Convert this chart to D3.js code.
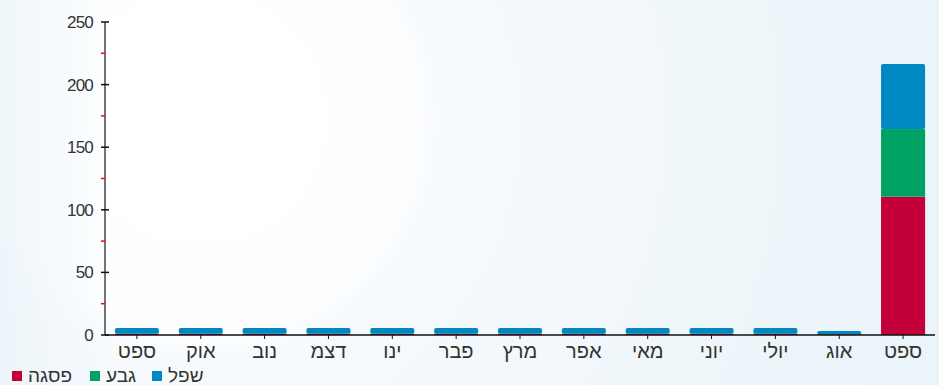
<!DOCTYPE html>
<html>
<head>
<meta charset="utf-8">
<style>
  body { margin: 0; padding: 0; }
  svg { display: block; }
  text { font-family: "Liberation Sans", Arial, sans-serif; }
</style>
</head>
<body>
<div id="chart"></div>
<script src="https://cdn.jsdelivr.net/npm/d3@7"></script>
<script>
// months, Hebrew abbreviations
var months = ["ספט", "אוק", "נוב", "דצמ", "ינו", "פבר", "מרץ", "אפר", "מאי", "יוני", "יולי", "אוג", "ספט"];
// series (stack order bottom -> top)
var peak = [1, 1, 1, 1, 1, 1, 1, 1, 1, 1, 1, 0.6, 110.5];   // פסגה
var mid  = [0, 0, 0, 0, 0, 0, 0, 0, 0, 0, 0, 0, 54];        // גבע
var low  = [4.5, 4.5, 4.5, 4.5, 4.5, 4.5, 4.5, 4.5, 4.5, 4.5, 4.5, 2.6, 52]; // שפל
var seriesNames = ["פסגה", "גבע", "שפל"];
var yTicks = [0, 50, 100, 150, 200, 250];
var yMinorTicks = [25, 75, 125, 175, 225];

var W = 939, H = 385;
var margin = { left: 105, right: 4, top: 22, bottom: 50 };
var colors = ["#c4003a", "#00a264", "#0088c2"];

var svg = d3.select("#chart").append("svg")
  .attr("width", W).attr("height", H);

// background
var defs = svg.append("defs");
var grad = defs.append("radialGradient")
  .attr("id", "bg")
  .attr("gradientUnits", "userSpaceOnUse")
  .attr("cx", 200).attr("cy", 120).attr("r", 720);
grad.append("stop").attr("offset", "0").attr("stop-color", "#ffffff");
grad.append("stop").attr("offset", "0.3").attr("stop-color", "#fdfeff");
grad.append("stop").attr("offset", "0.34").attr("stop-color", "#f6fafd");
grad.append("stop").attr("offset", "1").attr("stop-color", "#ebf4f9");
svg.append("rect").attr("width", W).attr("height", H).attr("fill", "url(#bg)");
var lgrad = defs.append("linearGradient").attr("id", "edge")
  .attr("x1", 0).attr("x2", 1).attr("y1", 0).attr("y2", 0);
lgrad.append("stop").attr("offset", "0").attr("stop-color", "#edf5fa").attr("stop-opacity", 0.9);
lgrad.append("stop").attr("offset", "0.12").attr("stop-color", "#edf5fa").attr("stop-opacity", 0);
svg.append("rect").attr("width", W).attr("height", H).attr("fill", "url(#edge)");

var x = d3.scaleBand()
  .domain(d3.range(months.length))
  .range([margin.left, W - margin.right])
  .paddingInner(0.31).paddingOuter(0.155);

var y = d3.scaleLinear()
  .domain([0, 250])
  .range([H - margin.bottom, margin.top]);

// stacked data
var table = months.map(function (m, i) {
  return { i: i, s0: peak[i], s1: mid[i], s2: low[i] };
});
var stack = d3.stack().keys(["s0", "s1", "s2"]);
var layers = stack(table);

var g = svg.append("g");
layers.forEach(function (layer, k) {
  g.selectAll(".bar" + k)
    .data(layer.filter(function (d) { return d[1] - d[0] > 0; }))
    .enter().append("rect")
    .attr("x", function (d) { return x(d.data.i); })
    .attr("width", x.bandwidth())
    .attr("y", function (d) { return y(d[1]); })
    .attr("height", function (d) { return y(d[0]) - y(d[1]); })
    .attr("rx", k == 2 ? 2 : 0)
    .attr("fill", colors[k]);
});

// y axis
var yAxis = svg.append("g").attr("transform", "translate(" + margin.left + ",0)");
yAxis.append("line")
  .attr("y1", y(250)).attr("y2", y(0))
  .attr("stroke", "#444").attr("stroke-width", 1.5);
yAxis.selectAll(".minor").data(yMinorTicks).enter().append("line")
  .attr("x1", -4).attr("x2", 0)
  .attr("y1", function (d) { return y(d); }).attr("y2", function (d) { return y(d); })
  .attr("stroke", "#ff0000").attr("stroke-width", 1.5);
yAxis.selectAll(".major").data(yTicks).enter().append("line")
  .attr("x1", -4).attr("x2", 4)
  .attr("y1", function (d) { return y(d); }).attr("y2", function (d) { return y(d); })
  .attr("stroke", "#111").attr("stroke-width", 1.5);
yAxis.selectAll(".lbl").data(yTicks).enter().append("text")
  .attr("x", -12)
  .attr("y", function (d) { return y(d) + 6; })
  .attr("text-anchor", "end")
  .attr("font-size", 17)
  .attr("letter-spacing", -0.8)
  .attr("fill", "#333")
  .text(function (d) { return d; });

// x axis
var xAxis = svg.append("g").attr("transform", "translate(0," + y(0) + ")");
xAxis.append("line")
  .attr("x1", margin.left).attr("x2", W - margin.right)
  .attr("stroke", "#111").attr("stroke-width", 1.5);
xAxis.selectAll(".tick").data(d3.range(months.length)).enter().append("line")
  .attr("x1", function (d) { return x(d) + x.bandwidth() / 2; })
  .attr("x2", function (d) { return x(d) + x.bandwidth() / 2; })
  .attr("y1", 0).attr("y2", 4)
  .attr("stroke", "#111");
xAxis.selectAll(".lbl").data(months).enter().append("text")
  .attr("x", function (d, i) { return x(i) + x.bandwidth() / 2; })
  .attr("y", 23)
  .attr("text-anchor", "middle")
  .attr("direction", "rtl")
  .attr("font-size", 20)
  .attr("fill", "#333")
  .text(function (d) { return d; });

// legend
var legendX = [12, 90, 152];
var legend = svg.append("g");
seriesNames.forEach(function (name, k) {
  legend.append("rect")
    .attr("x", legendX[k]).attr("y", 371)
    .attr("width", 10).attr("height", 10)
    .attr("fill", colors[k]);
  legend.append("text")
    .attr("x", legendX[k] + 16).attr("y", 382)
    .attr("font-size", 19)
    .attr("fill", "#333")
    .text(name);
});
</script>
</body>
</html>
